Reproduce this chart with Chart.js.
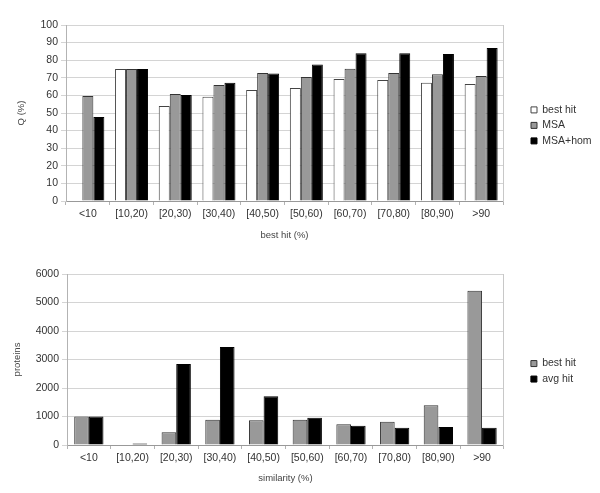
<!DOCTYPE html>
<html>
<head>
<meta charset="utf-8">
<script src="https://cdn.jsdelivr.net/npm/chart.js@4.4.1/dist/chart.umd.min.js"></script>
<style>
  html, body { margin: 0; padding: 0; background: #fff; }
  #q-chart { position: absolute; left: 0; top: 0; width: 600px; height: 246px; }
  #count-chart { position: absolute; left: 0; top: 250px; width: 600px; height: 243px; }
</style>
</head>
<body>
<div id="q-chart"><canvas></canvas></div>
<div id="count-chart"><canvas></canvas></div>
<script>
const categories = ["<10", "[10,20)", "[20,30)", "[30,40)", "[40,50)", "[50,60)", "[60,70)", "[70,80)", "[80,90)", ">90"];

// upper chart: Q (%) per best hit bin
const qBestHit = [null, 75, 54, 59.3, 63, 64.2, 69.3, 68.8, 67.2, 66.5];
const qMsa = [59.7, 75, 60.8, 65.9, 72.7, 70.4, 75.2, 72.7, 72, 71];
const qMsaHom = [47.7, 75, 60.2, 67.2, 72.5, 77.6, 83.9, 84, 83.5, 86.9];

// lower chart: number of proteins per similarity bin
const countBestHit = [1000, 20, 444, 889, 865, 889, 725, 819, 1392, 5415];
const countAvgHit = [1000, 50, 2842, 3439, 1708, 959, 678, 608, 632, 608];

Chart.defaults.font.family = '"Liberation Sans", Arial, sans-serif';
Chart.defaults.color = "#333";
Chart.defaults.animation = false;

// empty axis on the right: draws the plot frame and keeps a gap before the legend
function frameAxis(gap) {
  return {
    position: "right",
    display: true,
    grid: { drawOnChartArea: false, drawTicks: false },
    ticks: { display: false },
    border: { display: true, color: "#c8c8c8" },
    afterFit: function(scale) { scale.width = gap; }
  };
}

const qChart = new Chart(document.querySelector("#q-chart > canvas"), {
  "type": "bar",
  "data": {
    "labels": categories,
    "datasets": [
      { "label": "best hit", "data": qBestHit, "backgroundColor": "#ffffff", "borderColor": "#444", "borderWidth": 1 },
      { "label": "MSA", "data": qMsa, "backgroundColor": "#999999", "borderColor": "#333", "borderWidth": 1 },
      { "label": "MSA+hom", "data": qMsaHom, "backgroundColor": "#000000", "borderColor": "#000", "borderWidth": 1 }
    ]
  },
  "options": {
    "responsive": true,
    "maintainAspectRatio": false,
    "layout": { "padding": { "top": 25, "right": 0, "bottom": 0, "left": 0 } },
    "datasets": { "bar": { "barPercentage": 1, "categoryPercentage": 0.755 } },
    "scales": {
      "x": {
        "grid": { "offset": true, "drawOnChartArea": false, "tickLength": 4, "color": "#b3b3b3" },
        "border": { "color": "#999" },
        "ticks": { "font": { "size": 10.5 }, "padding": 3, "maxRotation": 0 },
        "title": { "display": true, "text": "best hit (%)", "color": "#444", "font": { "size": 9.5 }, "padding": { "top": 0, "bottom": 5 } },
        "afterFit": function(scale) { scale.height = 45; }
      },
      "y": {
        "min": 0,
        "max": 100,
        "ticks": { "stepSize": 10, "font": { "size": 10.5 }, "padding": 3 },
        "grid": { "color": "#d4d4d4", "tickLength": 5 },
        "border": { "color": "#b3b3b3" },
        "title": { "display": true, "text": "Q (%)", "color": "#444", "font": { "size": 9.5 }, "padding": { "top": 16, "bottom": 0 } },
        "afterFit": function(scale) { scale.width = 66; }
      },
      "frame": frameAxis(23)
    },
    "plugins": {
      "tooltip": { "enabled": false },
      "legend": {
        "position": "right",
        "fullSize": false,
        "maxWidth": 74,
        "title": { "display": true, "text": "", "padding": { "top": 0, "bottom": 10.4 } },
        "labels": { "boxWidth": 6, "boxHeight": 6, "padding": 5, "font": { "size": 10.5 }, "color": "#333" }
      }
    }
  }
});

const countChart = new Chart(document.querySelector("#count-chart > canvas"), {
  "type": "bar",
  "data": {
    "labels": categories,
    "datasets": [
      { "label": "best hit", "data": countBestHit, "backgroundColor": "#999999", "borderColor": "#333", "borderWidth": 1 },
      { "label": "avg hit", "data": countAvgHit, "backgroundColor": "#000000", "borderColor": "#000", "borderWidth": 1 }
    ]
  },
  "options": {
    "responsive": true,
    "maintainAspectRatio": false,
    "layout": { "padding": { "top": 24, "right": 14, "bottom": 0, "left": 0 } },
    "datasets": { "bar": { "barPercentage": 1, "categoryPercentage": 0.67 } },
    "scales": {
      "x": {
        "grid": { "offset": true, "drawOnChartArea": false, "tickLength": 4, "color": "#b3b3b3" },
        "border": { "color": "#999" },
        "ticks": { "font": { "size": 10.5 }, "padding": 3, "maxRotation": 0 },
        "title": { "display": true, "text": "similarity (%)", "color": "#444", "font": { "size": 9.5 }, "padding": { "top": 0, "bottom": 9.3 } },
        "afterFit": function(scale) { scale.height = 48; }
      },
      "y": {
        "min": 0,
        "max": 6000,
        "ticks": { "stepSize": 1000, "font": { "size": 10.5 }, "padding": 3, "format": { "useGrouping": false } },
        "grid": { "color": "#d4d4d4", "tickLength": 5 },
        "border": { "color": "#b3b3b3" },
        "title": { "display": true, "text": "proteins", "color": "#444", "font": { "size": 9.5 }, "padding": { "top": 12, "bottom": 0 } },
        "afterFit": function(scale) { scale.width = 67; }
      },
      "frame": frameAxis(22)
    },
    "plugins": {
      "tooltip": { "enabled": false },
      "legend": {
        "position": "right",
        "fullSize": false,
        "title": { "display": true, "text": "", "padding": { "top": 0, "bottom": 9.2 } },
        "labels": { "boxWidth": 6, "boxHeight": 6, "padding": 5, "font": { "size": 10.5 }, "color": "#333" }
      }
    }
  }
});
</script>
</body>
</html>
